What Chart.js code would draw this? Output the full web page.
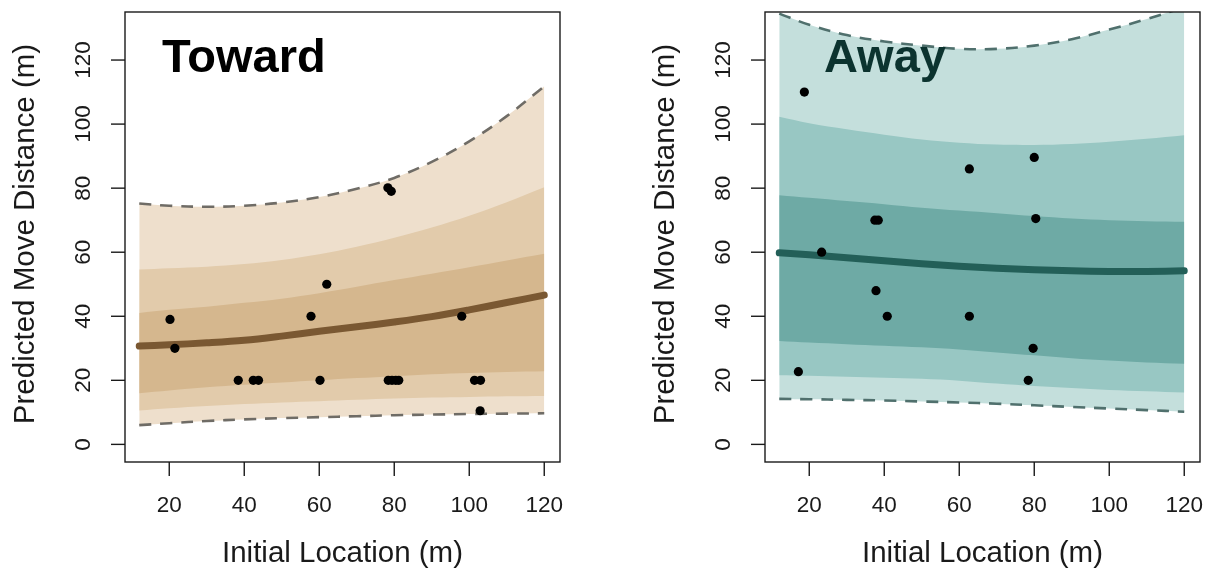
<!DOCTYPE html>
<html>
<head>
<meta charset="utf-8">
<script src="https://cdn.jsdelivr.net/npm/chart.js@4.4.0/dist/chart.umd.min.js"></script>
<style>
  html, body { margin: 0; padding: 0; background: #fff; }
  #wrap { position: relative; width: 1212px; height: 577px; }
  .panel { position: absolute; top: 0; width: 606px; height: 577px; }
</style>
</head>
<body>
<div id="wrap">
  <div class="panel" style="left:0"><canvas id="toward" width="606" height="577"></canvas></div>
  <div class="panel" style="left:606px"><canvas id="away" width="606" height="577"></canvas></div>
</div>
<script>
// x positions where the fitted curve and the bands are evaluated
const xGrid = [12, 20, 30, 40, 50, 60, 70, 80, 90, 100, 110, 120];

const xTicks = [20, 40, 60, 80, 100, 120];
const yTicks = [0, 20, 40, 60, 80, 100, 120];

// ---- Toward ----
const towardFit    = [30.7, 31.1, 31.7, 32.5, 33.8, 35.3, 36.7, 38.2, 39.9, 42.0, 44.3, 46.6];
const towardInnerU = [41.0, 42.0, 43.0, 44.2, 45.5, 47.2, 49.2, 51.3, 53.3, 55.3, 57.4, 59.5];
const towardInnerL = [16.0, 16.8, 17.8, 18.6, 19.3, 20.0, 20.7, 21.3, 21.9, 22.3, 22.6, 22.8];
const towardMidU   = [54.6, 55.0, 55.5, 56.3, 57.6, 59.4, 61.7, 64.5, 67.7, 71.4, 75.6, 80.3];
const towardMidL   = [10.6, 11.3, 12.0, 12.6, 13.1, 13.5, 13.9, 14.3, 14.6, 14.8, 15.0, 15.1];
const towardOuterU = [75.2, 74.5, 74.2, 74.5, 75.5, 77.2, 79.8, 83.2, 88.2, 94.6, 102.5, 111.8];
const towardOuterL = [6.0, 6.6, 7.3, 7.8, 8.2, 8.5, 8.8, 9.1, 9.3, 9.5, 9.6, 9.7];
const towardObsX = [20.2, 21.5, 38.4, 42.4, 43.8, 57.8, 62.0, 60.2, 78.3, 79.2, 78.4, 79.4, 80.4, 81.2, 98.0, 101.4, 103.0, 102.9];
const towardObsY = [39.0, 30.0, 20.0, 20.0, 20.0, 40.0, 50.0, 20.0, 80.1, 79.0, 20.0, 20.0, 20.0, 20.0, 40.0, 20.0, 20.0, 10.5];

// ---- Away ----
const awayFit    = [59.8, 59.2, 58.3, 57.3, 56.4, 55.6, 55.0, 54.5, 54.2, 54.0, 54.0, 54.2];
const awayInnerU = [77.8, 77.0, 76.0, 75.0, 73.9, 73.0, 72.2, 71.3, 70.5, 70.0, 69.7, 69.5];
const awayInnerL = [32.3, 31.8, 31.3, 30.8, 30.3, 29.6, 28.7, 27.8, 26.9, 26.2, 25.6, 25.2];
const awayMidU   = [102.3, 100.3, 98.4, 96.7, 95.2, 94.2, 93.6, 93.5, 93.8, 94.5, 95.4, 96.5];
const awayMidL   = [21.6, 21.4, 21.1, 20.8, 20.5, 19.9, 19.0, 18.2, 17.6, 17.0, 16.6, 16.2];
const awayOuterU = [134.5, 131.0, 127.8, 125.8, 124.5, 123.5, 123.5, 124.5, 126.5, 129.5, 132.8, 136.5];
const awayOuterL = [14.2, 14.1, 13.9, 13.7, 13.4, 13.1, 12.7, 12.2, 11.7, 11.2, 10.7, 10.2];
const awayObsX = [18.7, 23.3, 37.5, 38.4, 37.8, 40.8, 17.1, 62.7, 80.0, 80.4, 62.7, 79.7, 78.4];
const awayObsY = [110.0, 60.0, 70.0, 70.0, 48.0, 40.0, 22.7, 86.0, 89.6, 70.5, 40.0, 30.0, 20.0];

const toXY = (xs, ys) => xs.map((x, i) => ({ x: x, y: ys[i] }));

// R style frame: box, outside ticks, rotated y labels, axis titles, panel label
const rFrame = {
    id: "rFrame",
    afterDraw(chart) {
        const { ctx, chartArea: { left, right, top, bottom }, scales: { x, y } } = chart;
        const opts = chart.options.plugins.rFrame;
        ctx.save();
        ctx.strokeStyle = "#1a1a1a";
        ctx.lineWidth = 1.4;
        ctx.strokeRect(left, top, right - left, bottom - top);

        ctx.fillStyle = "#1a1a1a";
        ctx.font = "22.5px 'Liberation Sans', Arial, sans-serif";
        // x ticks
        ctx.textAlign = "center";
        ctx.textBaseline = "middle";
        xTicks.forEach((v) => {
            const px = x.getPixelForValue(v);
            ctx.beginPath();
            ctx.moveTo(px, bottom);
            ctx.lineTo(px, bottom + 14);
            ctx.stroke();
            ctx.fillText(String(v), px, bottom + 44);
        });
        // y ticks (labels parallel to the axis)
        yTicks.forEach((v) => {
            const py = y.getPixelForValue(v);
            ctx.beginPath();
            ctx.moveTo(left, py);
            ctx.lineTo(left - 14, py);
            ctx.stroke();
            ctx.save();
            ctx.translate(left - 41, py);
            ctx.rotate(-Math.PI / 2);
            ctx.fillText(String(v), 0, 0);
            ctx.restore();
        });

        // axis titles
        ctx.font = "29.5px 'Liberation Sans', Arial, sans-serif";
        ctx.fillText("Initial Location (m)", (left + right) / 2, bottom + 92);
        ctx.save();
        ctx.translate(left - 99, (top + bottom) / 2 - 3);
        ctx.rotate(-Math.PI / 2);
        ctx.fillText("Predicted Move Distance (m)", 0, 0);
        ctx.restore();

        // panel label
        ctx.font = "bold 47px 'Liberation Sans', Arial, sans-serif";
        ctx.textAlign = "left";
        ctx.textBaseline = "alphabetic";
        ctx.fillStyle = opts.titleColor;
        ctx.fillText(opts.title, left + opts.titleOffset, 72);
        ctx.restore();
    },
};

function buildPanel(canvasId, d) {
    const line = (ys, extra) => Object.assign({
        data: toXY(xGrid, ys),
        pointRadius: 0,
        borderWidth: 0,
        tension: 0.35,
        fill: false,
    }, extra);

    const datasets = [
        {
            data: toXY(d.obsX, d.obsY),
            showLine: false,
            pointRadius: 4.6,
            pointBackgroundColor: "#000",
            pointBorderWidth: 0,
        },
        line(d.fit, { borderWidth: 7, borderColor: d.fitColor, borderCapStyle: "round" }),
        line(d.outerU, { borderWidth: 2.6, borderColor: d.dashColor, borderDash: [12, 9] }),
        line(d.outerL, { borderWidth: 2.6, borderColor: d.dashColor, borderDash: [12, 9] }),
        line(d.innerU, { fill: { target: 5 }, backgroundColor: d.bandColors[2] }),
        line(d.innerL),
        line(d.midU, { fill: { target: 7 }, backgroundColor: d.bandColors[1] }),
        line(d.midL),
        line(d.outerU, { fill: { target: 9 }, backgroundColor: d.bandColors[0] }),
        line(d.outerL),
    ];

    return new Chart(document.getElementById(canvasId), {
        type: "line",
        data: { datasets },
        options: {
            responsive: false,
            animation: false,
            events: [],
            layout: { padding: d.padding },
            scales: {
                x: { type: "linear", min: 8.2, max: 124.2, display: false },
                y: { type: "linear", min: -5.5, max: 135, display: false },
            },
            plugins: {
                legend: { display: false },
                tooltip: { enabled: false },
                rFrame: { title: d.title, titleColor: d.titleColor, titleOffset: d.titleOffset },
            },
        },
        plugins: [rFrame],
    });
}

buildPanel("toward", {
    title: "Toward",
    titleColor: "#000000",
    titleOffset: 37,
    padding: { left: 125, right: 46, top: 12, bottom: 115 },
    fit: towardFit,
    innerU: towardInnerU, innerL: towardInnerL,
    midU: towardMidU, midL: towardMidL,
    outerU: towardOuterU, outerL: towardOuterL,
    obsX: towardObsX, obsY: towardObsY,
    fitColor: "#7a5832",
    dashColor: "#6f6c66",
    bandColors: ["#eedfcc", "#e2cbab", "#d5b78e"],
});

buildPanel("away", {
    title: "Away",
    titleColor: "#0c332f",
    titleOffset: 59,
    padding: { left: 159, right: 12, top: 12, bottom: 115 },
    fit: awayFit,
    innerU: awayInnerU, innerL: awayInnerL,
    midU: awayMidU, midL: awayMidL,
    outerU: awayOuterU, outerL: awayOuterL,
    obsX: awayObsX, obsY: awayObsY,
    fitColor: "#235f58",
    dashColor: "#50706d",
    bandColors: ["#c4dfdc", "#98c7c3", "#6eaaa5"],
});
</script>
</body>
</html>
